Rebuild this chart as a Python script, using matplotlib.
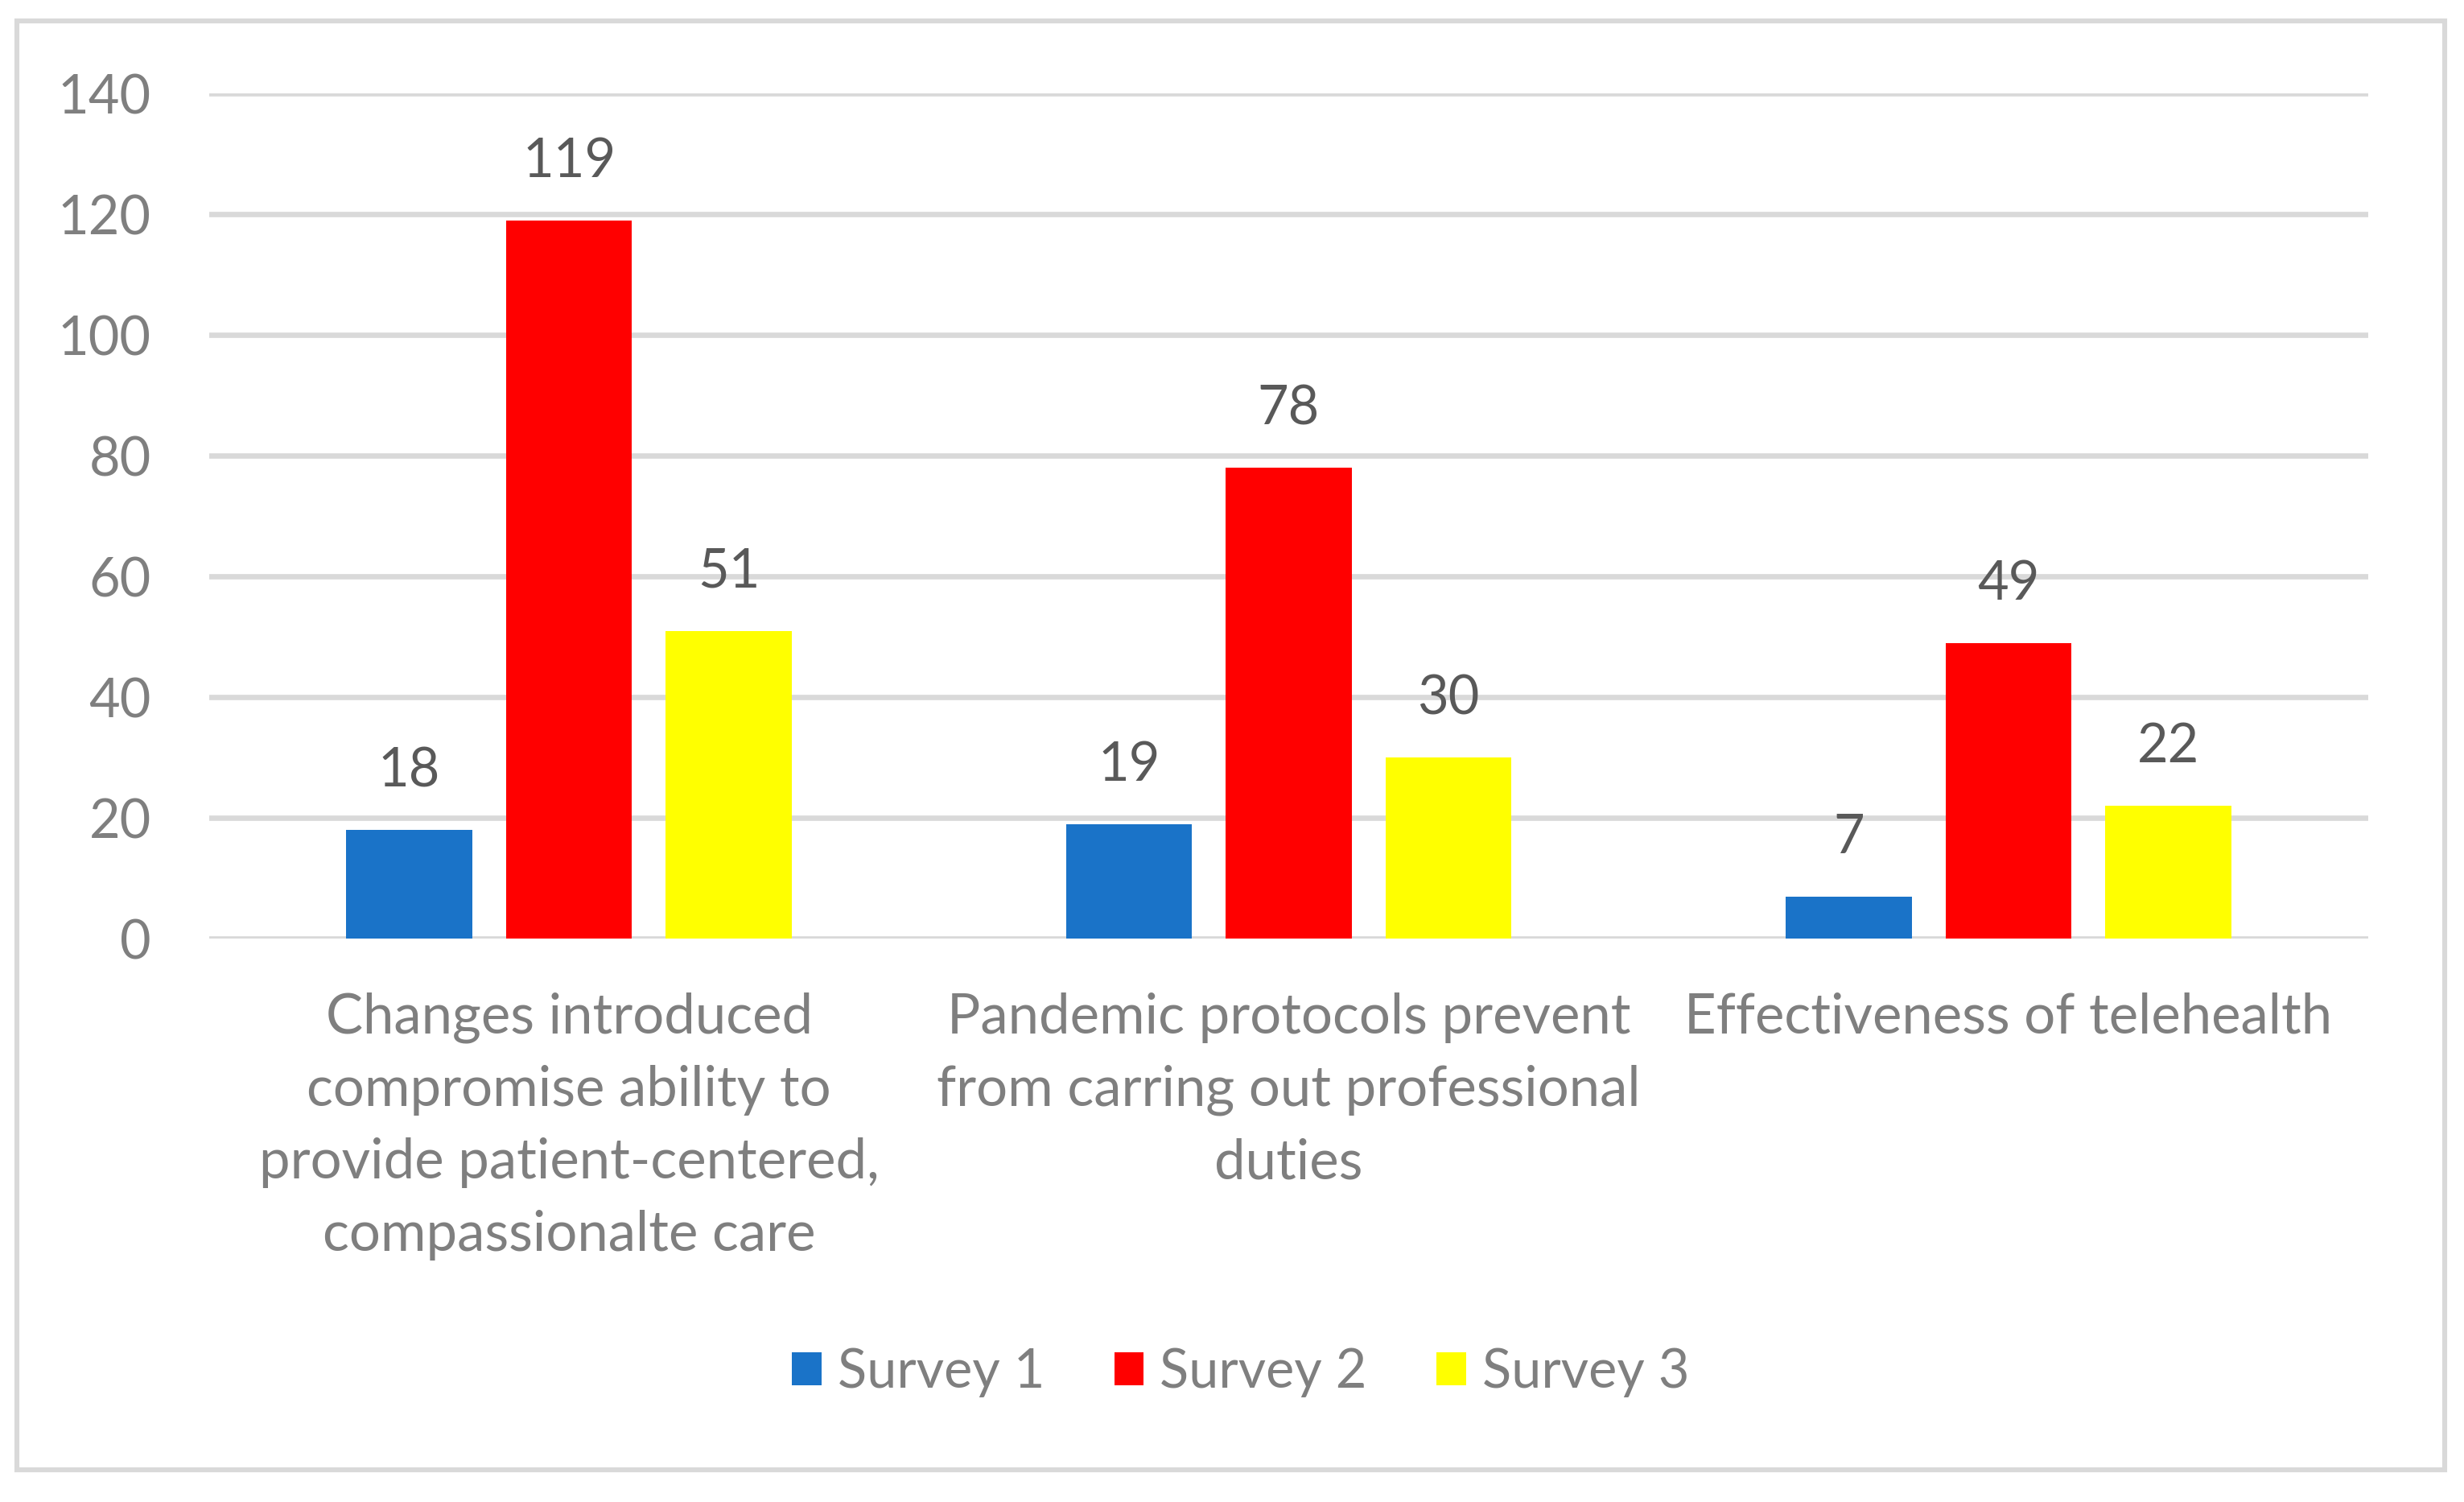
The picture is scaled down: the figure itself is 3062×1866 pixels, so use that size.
import matplotlib
matplotlib.use("Agg")
import matplotlib.pyplot as plt
from matplotlib.patches import Rectangle
import numpy as np

categories = [
    "Changes introduced\ncompromise ability to\nprovide patient-centered,\ncompassionalte care",
    "Pandemic protocols prevent\nfrom carring out professional\nduties",
    "Effectiveness of telehealth",
]
series_names = ["Survey 1", "Survey 2", "Survey 3"]
survey1 = [18, 19, 7]
survey2 = [119, 78, 49]
survey3 = [51, 30, 22]
colors = ["#1A73C8", "#FF0000", "#FFFF00"]
yticks = [0, 20, 40, 60, 80, 100, 120, 140]

plt.rcParams['font.family'] = ['Lato', 'DejaVu Sans']

W, H, DPI = 3062, 1866, 200
fig = plt.figure(figsize=(W / DPI, H / DPI), dpi=DPI)

# outer chart border
fig.patches.append(Rectangle((21 / W, 1 - 1826 / H), (3038 - 21) / W, (1826 - 26) / H,
                             transform=fig.transFigure, fill=False,
                             edgecolor="#D9D9D9", linewidth=2.2))

ax = fig.add_axes([260 / W, 1 - 1166 / H, (2943 - 260) / W, (1166 - 116) / H])
x = np.arange(len(categories))
step = 0.222
width = 0.175
data = [survey1, survey2, survey3]
label_color = "#595959"
axis_color = "#7F7F7F"
fs = 24

for i, (vals, name, c) in enumerate(zip(data, series_names, colors)):
    pos = x + (i - 1) * step
    bars = ax.bar(pos, vals, width=width, color=c, label=name, zorder=3)
    for b, v in zip(bars, vals):
        ax.annotate(str(v), (b.get_x() + b.get_width() / 2, v),
                    xytext=(0, 15), textcoords="offset points",
                    ha="center", va="bottom", fontsize=fs, color=label_color)

ax.set_xlim(-0.5, 2.5)
ax.set_ylim(0, 140)
ax.set_yticks(yticks)
ax.set_yticklabels([str(t) for t in yticks], fontsize=fs, color=axis_color)
ax.set_xticks(x)
ax.set_xticklabels(categories, fontsize=24.8, color=axis_color, linespacing=1.53)
ax.tick_params(axis="both", length=0)
ax.tick_params(axis="y", pad=26)
ax.tick_params(axis="x", pad=24)
for s in ax.spines.values():
    s.set_visible(False)
ax.yaxis.grid(True, color="#D9D9D9", linewidth=2.4, zorder=0)
ax.set_axisbelow(True)

leg = fig.legend(loc="center", bbox_to_anchor=(0.5035, 1 - 1705 / H), ncol=3,
                 frameon=False, fontsize=fs, handlelength=0.55, handleheight=0.55,
                 handletextpad=0.3, columnspacing=1.3)
for t in leg.get_texts():
    t.set_color(axis_color)

fig.savefig("out.png", dpi=DPI, facecolor="white")
